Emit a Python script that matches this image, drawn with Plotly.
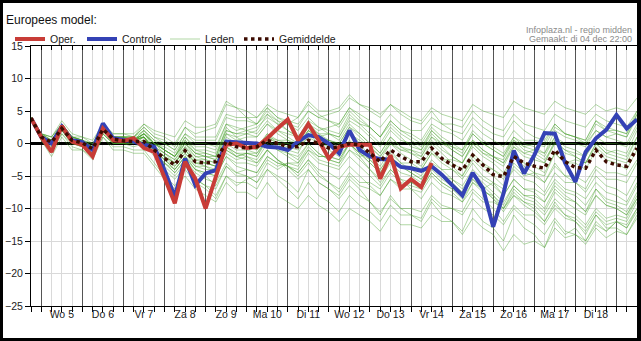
import plotly.graph_objects as go
import pandas as pd

# ---- data -------------------------------------------------------------
times = [t.strftime("%Y-%m-%d %H:%M") for t in pd.date_range("2012-12-04 18:00", periods=60, freq="6h")]
day_starts = [t.strftime("%Y-%m-%d %H:%M") for t in pd.date_range("2012-12-05", periods=15, freq="D")]
day_noons = [t.strftime("%Y-%m-%d %H:%M") for t in pd.date_range("2012-12-05 12:00", periods=14, freq="D")]
day_labels = ["Wo 5", "Do 6", "Vr 7", "Za 8", "Zo 9", "Ma 10", "Di 11",
              "Wo 12", "Do 13", "Vr 14", "Za 15", "Zo 16", "Ma 17", "Di 18"]
y_ticks = [-25, -20, -15, -10, -5, 0, 5, 10, 15]

oper = [3.9, 1.0, -1.3, 2.7, 0.3, -0.2, -2.0, 2.3, 0.5, 0.4,
        0.8, -0.7, -1.3, -5.1, -9.2, -2.8, -5.4, -10.0, -5.1, -0.2,
        0.0, -0.7, -0.5, 0.8, 2.3, 3.7, 0.5, 3.0, 0.5, -2.3,
        -0.5, -0.2, -0.2, -0.2, -5.4, -1.8, -6.9, -5.5, -6.7, -3.0]

controle = [3.9, 1.0, 0.0, 2.6, 0.5, 0.2, -1.0, 3.1, 0.8, 0.5,
            0.3, -0.2, -0.5, -4.1, -8.2, -2.3, -6.4, -4.6, -4.1, 0.3,
            0.2, 0.2, 0.0, -0.5, -0.6, -1.0, 0.3, 1.3, 1.0, 0.0,
            -1.5, 2.0, -1.0, -2.0, -2.4, -2.5, -3.6, -3.8, -4.2, -3.5,
            -4.8, -6.4, -8.0, -4.5, -6.9, -12.8, -7.7, -1.1, -4.6, -1.8,
            1.6, 1.5, -3.0, -5.9, -1.3, 0.8, 2.1, 4.4, 2.3, 3.7]

gemiddelde = [3.9, 1.0, 0.2, 2.3, 0.5, 0.1, -0.8, 2.2, 0.7, 0.4,
              0.3, 0.3, -1.0, -2.3, -3.3, -1.1, -2.8, -3.0, -2.8, 0.3,
              -0.5, -0.7, -0.5, 0.5, 0.0, -0.5, -0.5, 0.5, 0.0, -0.7,
              -0.5, 0.0, -0.2, -1.5, -2.8, -1.0, -2.0, -2.8, -2.8, -0.7,
              -2.3, -3.3, -4.1, -1.8, -3.3, -4.8, -5.1, -2.0, -3.0, -3.5,
              -3.8, -1.0, -2.8, -3.7, -3.8, -1.0, -2.8, -3.3, -3.5, -0.7]

leden = [
    [4, 1.5,0.5,3,1, 0.5,-0.5,2.5,1, 1,0.5,2,0.5, -1,-2,1,-1, -1.5,-2,2,1.5, 2,2.5,4,3, 3,4,6.5,5, 5,5.5,7.5,6, 5,4,6,4.5, 3.5,3,5,3, 2,1.5,4,2.5, 1.5,1,3.5,2, 1,0.5,3,1.5, 1,0,2,1, 0.5,0,3],
    [4, 0.5,-1.5,1.5,-0.5, -1,-2,1,-0.5, -0.5,-1,-1,-3, -5,-6.5,-4,-6, -7,-8.5,-5,-6, -6,-7,-4,-5, -6,-7.5,-4,-6, -7,-8,-5.5,-7, -9,-11,-8,-10, -11,-12,-9,-11, -12,-13.5,-10,-12, -13,-15,-11,-13, -14,-16,-12,-14, -13,-15,-12,-13.5, -12,-13,-10],
    [4, 1,0,2.5,0.5, 0.5,-0.5,2.5,1, 0.5,0.5,1.5,0, -1,-2,0.5,-1.5, -2,-2.5,1.5,0.5, 1,1,3,2, 1.5,1,3.5,2.5, 2,1.5,4.5,3, 1.5,0,2.5,1, -0.5,-1,1.5,0, -1,-2,0.5,-1, -2,-3,0,-1.5, -2,-3,0.5,-1, -2,-3,0,-1.5, -2,-2.5,1],
    [4, 0.5,-0.5,2,0, -0.5,-1.5,1.5,0, 0,-0.5,0,-1.5, -3,-4,-2,-4, -4.5,-5,-2,-3.5, -4,-4.5,-2,-3, -3.5,-4,-1.5,-3, -3.5,-4,-2,-3.5, -5,-6.5,-4,-5.5, -6,-7,-4.5,-6, -7,-8.5,-6,-7.5, -8,-9.5,-6.5,-8, -8.5,-10,-7,-8.5, -9,-10.5,-7,-9, -9.5,-10.5,-7.5],
    [4, 1,0.5,2.5,1, 0.5,-0.5,2.5,1, 1,1,2,0.5, 0,-1,1.5,0, 0,-0.5,3,2.5, 2,1.5,3.5,2, 1,0,2,0.5, -0.5,-1.5,0.5,-1, -2.5,-4,-2,-3.5, -4.5,-5.5,-3,-4, -4,-5,-2,-3.5, -4,-5,-2,-3, -3.5,-4.5,-1.5,-3, -3,-4,-1,-2.5, -3,-4,-1],
    [4, 1.5,1,3,1, 0.5,0,2,0.5, 0.5,0,1,-0.5, -1.5,-3,-0.5,-2.5, -3,-3.5,-0.5,-1.5, -1.5,-2,0.5,-0.5, -1,-1.5,1.5,0.5, 0.5,0,2.5,1.5, 0,-1.5,1,-0.5, -1.5,-2,1,-0.5, -2,-3,-0.5,-2, -3,-4.5,-2,-3.5, -4.5,-6,-3,-5, -6,-7.5,-5,-6.5, -7,-8,-5],
    [4, 1,0,2,0.5, 0,-1,2,0.5, 0.5,0.5,1,-1, -2.5,-4,-2,-4, -5,-6.5,-3.5,-5, -5,-6,-3,-4, -3,-3.5,-1,-2, -2,-2.5,0,-1.5, -2.5,-4,-1.5,-3, -3,-4,-1.5,-3, -4,-5.5,-3,-5, -6,-8,-5.5,-7, -7.5,-9,-6.5,-8, -9,-10.5,-8,-9.5, -10,-11,-8.5],
    [4, 1,0,2.5,0.5, 0,-1,2,0.5, 0.5,0.5,1.5,0, -1,-2,0,-1.5, -1.5,-2,1.5,1, 1.5,2,4.5,3.5, 3,2.5,5,4, 3.5,3,5.5,4, 2.5,1,3,1.5, 0.5,-0.5,2,0.5, -1,-2,0.5,-1, -2,-3,-0.5,-1.5, -1,-1.5,1,0, 0,-0.5,2,1, 1.5,1,4],
    [4, 1,-0.5,2,0.5, 0,-1,2,1, 1,1,1,-1.5, -3.5,-5,-3,-5.5, -6.5,-7,-3.5,-4.5, -4,-4.5,-2,-3, -3.5,-4.5,-2.5,-4.5, -6,-7.5,-5,-6.5, -7,-8,-5.5,-6.5, -6,-6.5,-4,-5.5, -6.5,-7.5,-5,-6.5, -8,-10,-7.5,-9, -10,-12,-9,-11, -12,-14,-11,-13, -13,-14,-11],
    [4, 1,0,2.5,0.5, 0,-1,2.5,1, 0.5,0.5,1.5,-0.5, -2,-3,-1,-2.5, -2.5,-3,0.5,-0.5, -0.5,-1,1,0, -0.5,-1,1,0, -0.5,-1,1.5,0.5, -0.5,-2,0.5,-1, -1.5,-2.5,0,-1.5, -3,-4,-1.5,-3, -4,-5.5,-3,-4.5, -5,-6,-3.5,-5, -5,-6,-3.5,-4.5, -4.5,-5,-2.5],
    [4, 1,0,2,0.5, 0,-1.5,1.5,0, 0,0,0.5,-1, -2,-3.5,-1.5,-3.5, -4,-4,-1,-2, -1.5,-1.5,1,0.5, 0.5,0,2.5,1.5, 1.5,1,3.5,2.5, 1,-0.5,2,0.5, 0,-1,2,0.5, -0.5,-1.5,1.5,0, -1,-2,1,0, -0.5,-1.5,2,1, 0.5,0,3,2, 1.5,1,4.5],
    [4, 1,0.5,2.5,0.5, 0,-1,2,0.5, 0.5,0.5,1,-1.5, -3,-4.5,-2.5,-4.5, -5.5,-6,-3,-4.5, -5,-6,-4,-5.5, -7,-8.5,-6,-8, -9,-10.5,-8,-9.5, -10.5,-12,-9.5,-11, -11,-11.5,-8.5,-10, -10,-10.5,-7.5,-9, -9,-10,-7,-8.5, -9,-10.5,-7.5,-9, -10,-11,-8,-9.5, -10,-11,-8],
    [4, 1.5,0.5,3,1, 0.5,-0.5,2.5,1, 1,1,2.5,1, 0,-1,1.5,0.5, 0.5,0.5,4,3.5, 3.5,3,5.5,4, 3,2,4,2.5, 1.5,0.5,3,1.5, 0,-1.5,1,-0.5, -1,-2,0.5,-1, -2,-3,0,-1.5, -2.5,-3.5,-0.5,-2, -2.5,-3,0,-1, -1.5,-2,1,0, 0,-0.5,2.5],
    [4, 1,0,2.5,0.5, 0,-1,2,0.5, 0.5,0,0.5,-1, -2.5,-3.5,-1.5,-3, -3,-3.5,-0.5,-2, -2.5,-3,-1,-2.5, -3.5,-4.5,-2.5,-4, -4.5,-5.5,-3.5,-5, -6.5,-8,-5.5,-7, -7,-7.5,-5,-6.5, -7.5,-9,-7,-8.5, -10,-12,-9.5,-11, -11,-12.5,-10,-11.5, -12,-13.5,-11,-12.5, -12,-13,-10.5],
    [4, 1,0,2.5,0.5, 0,-1,2,0.5, 0.5,0.5,1.5,0, -1,-2,0.5,-1, -1,-1.5,2,1.5, 1.5,1,3,1.5, 0.5,-0.5,1.5,0, -1,-2,0,-1.5, -3,-4.5,-2,-3.5, -3.5,-4,-1.5,-2.5, -2.5,-3,0,-1.5, -2,-2.5,0.5,-0.5, 0,-0.5,2.5,1.5, 1,0.5,3.5,2.5, 2,1.5,4.5],
    [4, 1,0,2.5,0.5, 0,-1,2.5,0.5, 0.5,0.5,1,-1, -2,-3,-1,-3, -3.5,-4,-1.5,-2.5, -2,-2.5,0,-1, -1.5,-2,0,-1.5, -2.5,-3,-1,-2.5, -4,-5.5,-3,-4.5, -5,-6,-3.5,-5, -5.5,-6.5,-4,-5.5, -6.5,-8,-5.5,-7, -7,-8,-5.5,-7, -7.5,-8.5,-6,-7.5, -8,-9,-6],
    [4, 1.5,1,3.5,1.5, 1,0,3,1.5, 1.5,1.5,3,1.5, 1,0,2.5,1, 1,1,4.5,4, 4,4,6,5, 4.5,4,6,4.5, 3.5,2.5,5,3.5, 2.5,1,3.5,2, 1,0,2.5,1, 0,-1,2,0.5, -0.5,-1.5,1,-0.5, -1,-2,1,-0.5, -1,-2,0.5,-1, -1.5,-2,1],
    [4, 0.5,-1,1.5,0, -0.5,-1.5,1.5,0, 0,0,0,-2, -4,-5.5,-3.5,-5.5, -6.5,-8,-5,-6.5, -5.5,-5,-2.5,-3.5, -3,-3,-0.5,-2, -2,-2.5,0,-1.5, -3,-4.5,-2,-3.5, -4.5,-5.5,-3.5,-5, -6,-7.5,-5.5,-7, -8.5,-10.5,-8,-9.5, -10.5,-12,-9.5,-11, -11.5,-13,-10.5,-12, -11.5,-12,-9],
    [4, 1,0.5,2.5,0.5, 0,-1,2,0.5, 0.5,0.5,1.5,0, -1,-2,0,-1.5, -2,-2.5,1,0, 0,-0.5,1.5,0.5, 0,-0.5,2,1, 0.5,0,2.5,1, -0.5,-2,0,-1.5, -2.5,-3.5,-1,-2.5, -3.5,-5,-2.5,-4, -5,-6.5,-4,-5.5, -6,-7.5,-4.5,-6, -6,-7,-4,-5.5, -5.5,-6,-3],
    [4, 1,0,2,0.5, 0,-1,2,0.5, 0.5,0.5,1,-1, -2.5,-4,-2,-3.5, -3.5,-4.5,-1,-2, -1.5,-2,1,0, 0,-0.5,2,1, 1.5,1,4,3, 2.5,1,3.5,2, 1.5,0.5,3,2, 1.5,0.5,3,1.5, 0.5,-0.5,2,0.5, 0.5,0,3,1.5, 1,0.5,3.5,2, 2,1.5,5],
    [4, 1.5,1,3,1, 1,0.5,3,1.5, 1.5,1,2.5,1, 0.5,-0.5,2.5,1.5, 2,2.5,6,5.5, 5,4,5.5,4, 3.5,3,5,4, 4.5,5,7,6, 5.5,4.5,6,5, 4,3.5,5.5,4.5, 4,3.5,6,5, 4.5,4,6.5,5.5, 5,4.5,6.5,5.5, 5,4.5,6,5, 5.5,5,7],
    [4, 0.5,-2,1,-1, -1,-2.5,1,-1, -1,-1.5,-1.5,-3.5, -5.5,-7,-5,-7, -8,-9,-6,-7.5, -7.5,-8.5,-6,-8, -9,-10,-8,-9.5, -10.5,-12,-10,-11, -12,-13.5,-11,-12.5, -12.5,-13,-11,-12, -12,-14,-11.5,-13, -14,-16.5,-14,-15.5, -15,-16,-13,-14.5, -14,-15,-12.5,-13.5, -12,-12.5,-10],
    [4, 1,0,2.5,0.5, 0,-1,2,0.5, 1,0.5,2,0, -1.5,-2.5,0,-2, -2,-2,2.5,1, 0,-1,1.5,0, -1.5,-2.5,0,-1.5, -2.5,-3,0,-2, -4,-6,-4,-5.5, -7,-8.5,-6,-7.5, -8,-9,-6,-7, -6,-7,-3.5,-5, -4.5,-5,-1.5,-3, -2.5,-3,0,-1.5, -1,-1.5,2],
    [4, 1,0.5,3,1, 0.5,0,2.5,1, 1,1,3,2, 1.5,1,3.5,2.5, 2.5,3,6.5,5.5, 4,3,4.5,3, 2,1,3,1.5, 0.5,-0.5,2,0, -2,-3.5,-1,-3, -4,-5,-2.5,-4, -5.5,-7,-4.5,-6, -7.5,-9,-6.5,-8, -8,-9,-6,-7.5, -8,-9.5,-7,-8.5, -9,-9.5,-6.5],
    [4, 1,0,2,0, -0.5,-1.5,1.5,0, 0,0,0.5,-1.5, -3,-4.5,-2.5,-4, -4.5,-5,-2,-3, -3,-3.5,-1,-2.5, -3.5,-5,-3,-5, -6,-7,-4.5,-6, -6,-7,-4.5,-6, -6.5,-7,-4.5,-6, -7,-8,-5.5,-7, -8.5,-10,-8,-9, -9.5,-11,-8.5,-10, -11,-12.5,-10,-11.5, -11,-11.5,-8.5],
    [4, 1.5,0.5,2.5,1, 0.5,-0.5,2.5,1, 1,0.5,1.5,0, -0.5,-1.5,1,-0.5, -0.5,-1,3,2, 2.5,3,5,3.5, 2,1,3,2, 2.5,3,5.5,4.5, 3.5,2.5,4.5,3, 2,2,4,3, 3,2.5,5,3.5, 2.5,2,4.5,3, 2.5,2,4.5,3.5, 3,2.5,4.5,3.5, 3,2.5,5],
    [4, 1,0,2.5,0.5, 0,-1,2,0.5, 0.5,0,1,-0.5, -1.5,-2.5,-0.5,-2, -2.5,-3,0,-1, -1,-1.5,0.5,-1, -2,-3,-1,-2.5, -3,-3.5,-1,-2, -1.5,-2.5,0,-1, -1,-1.5,1,0, -0.5,-1,1.5,0, -1,-2,0.5,-1, -1.5,-2.5,0,-1.5, -2,-3,-0.5,-2, -2.5,-3,0],
    [4, 1,0,2.5,0.5, 0,-1,2,0.5, 0.5,0.5,1,-1, -2,-3,-1,-3, -3,-3.5,-0.5,-1.5, -2,-3,-1,-2.5, -4,-5.5,-4,-6, -7,-8.5,-6.5,-8, -9,-10.5,-8.5,-10, -10,-10.5,-8,-9.5, -10,-11,-8.5,-10, -11,-12.5,-10,-11.5, -12.5,-14,-11.5,-13.5, -14,-15.5,-13,-14.5, -13.5,-14,-11.5],
]
for m in leden:
    assert len(m) == 60, len(m)

# ---- styles -----------------------------------------------------------
FONT = "Liberation Sans, Arial, sans-serif"
TXT = "#222222"
RED = "#c83c37"
BLUE = "#3442b5"
GREEN = "rgba(70,160,40,0.42)"
MEAN = "#3d0c02"
GRID_LIGHT = "#d9d9d9"
GRID_DARK = "#555555"

fig = go.Figure()
for i, m in enumerate(leden):
    fig.add_trace(go.Scatter(x=times[:len(m)], y=m, mode="lines", name="Leden",
                             line=dict(color=GREEN, width=1), legend="legend3",
                             legendgroup="leden", showlegend=(i == 0), hoverinfo="skip"))
fig.add_trace(go.Scatter(x=times[:len(controle)], y=controle, mode="lines", name="Controle",
                         line=dict(color=BLUE, width=4), legend="legend2"))
fig.add_trace(go.Scatter(x=times[:len(oper)], y=oper, mode="lines", name="Oper.",
                         line=dict(color=RED, width=4), legend="legend"))
fig.add_trace(go.Scatter(x=times[:len(gemiddelde)], y=gemiddelde, mode="lines", name="Gemiddelde",
                         line=dict(color=MEAN, width=3.5, dash="dot"), legend="legend4"))

# empty helper traces so the overlay axes (day grid, labels, top ticks) get drawn
for ax in ["x2", "x3", "x4"]:
    fig.add_trace(go.Scatter(x=[times[0]], y=[None], xaxis=ax, yaxis="y", mode="lines",
                             showlegend=False, hoverinfo="skip"))

x_range = [times[0], times[-1]]
six_hour_ticks = [t for t in times if not t.endswith("00:00")]

L, R, T, B = 31, 4, 46, 35
W, H = 641, 341
pw, ph = W - L - R, H - T - B


def px(xp):
    return (xp - L) / pw


def py(yp):
    return (H - B - yp) / ph


leg_common = dict(orientation="h", xanchor="left", yanchor="middle", y=py(39),
                  bgcolor="rgba(0,0,0,0)", borderwidth=0,
                  font=dict(family=FONT, size=10.5, color=TXT))

fig.update_layout(
    width=W, height=H,
    margin=dict(l=L, r=R, t=T, b=B, pad=0),
    paper_bgcolor="white", plot_bgcolor="white",
    hovermode=False,
    showlegend=True,
    legend=dict(x=px(10), **leg_common),
    legend2=dict(x=px(82), **leg_common),
    legend3=dict(x=px(165), **leg_common),
    legend4=dict(x=px(239), **leg_common),
    xaxis=dict(type="date", range=x_range, tickmode="array", tickvals=six_hour_ticks,
               showticklabels=False, ticks="outside", ticklen=5, tickcolor="black", tickwidth=1,
               showgrid=True, gridcolor=GRID_LIGHT, gridwidth=1,
               showline=True, linecolor="black", linewidth=1, mirror=True, zeroline=False),
    xaxis2=dict(type="date", overlaying="x", side="bottom", anchor="y", range=x_range,
                tickmode="array", tickvals=day_starts, ticks="outside", ticklen=5,
                tickcolor="black", showticklabels=False, showgrid=True,
                gridcolor=GRID_DARK, gridwidth=1, showline=False, zeroline=False),
    xaxis3=dict(type="date", overlaying="x", side="bottom", anchor="y", range=x_range,
                tickmode="array", tickvals=day_noons, ticktext=day_labels, ticks="",
                showgrid=False, showline=False, zeroline=False,
                tickfont=dict(family=FONT, size=10.5, color=TXT)),
    xaxis4=dict(type="date", overlaying="x", side="top", anchor="y", range=x_range,
                tickmode="array", tickvals=times, ticks="inside", ticklen=4,
                tickcolor="black", showticklabels=False, showgrid=False,
                showline=False, zeroline=False),
    yaxis=dict(range=[-25, 15], tickmode="array", tickvals=y_ticks,
               ticks="outside", ticklen=5, tickcolor="black",
               showline=True, linecolor="black", linewidth=1,
               showgrid=True, gridcolor=GRID_LIGHT, gridwidth=1,
               zeroline=True, zerolinecolor="black", zerolinewidth=3,
               tickfont=dict(family=FONT, size=10.5, color=TXT)),
)

# outer black frame
for (x0, x1, y0, y1) in [(0, 3, 0, H), (W - 4, W, 0, H), (0, W, 0, 3), (0, W, H - 3, H)]:
    fig.add_shape(type="rect", xref="paper", yref="paper",
                  x0=px(x0), x1=px(x1), y0=py(y1), y1=py(y0),
                  fillcolor="black", line=dict(width=0), layer="above")

fig.add_annotation(text="Europees model:", xref="paper", yref="paper",
                   x=px(4), y=py(20), xanchor="left", yanchor="middle", showarrow=False,
                   font=dict(family=FONT, size=12, color="#111111"))
fig.add_annotation(text="Infoplaza.nl - regio midden", xref="paper", yref="paper",
                   x=px(634), y=py(30), xanchor="right", yanchor="middle", showarrow=False,
                   font=dict(family=FONT, size=9, color="#8a8a8a"))
fig.add_annotation(text="Gemaakt: di 04 dec 22:00", xref="paper", yref="paper",
                   x=px(634), y=py(39), xanchor="right", yanchor="middle", showarrow=False,
                   font=dict(family=FONT, size=9, color="#8a8a8a"))

fig.write_html("out.html")
